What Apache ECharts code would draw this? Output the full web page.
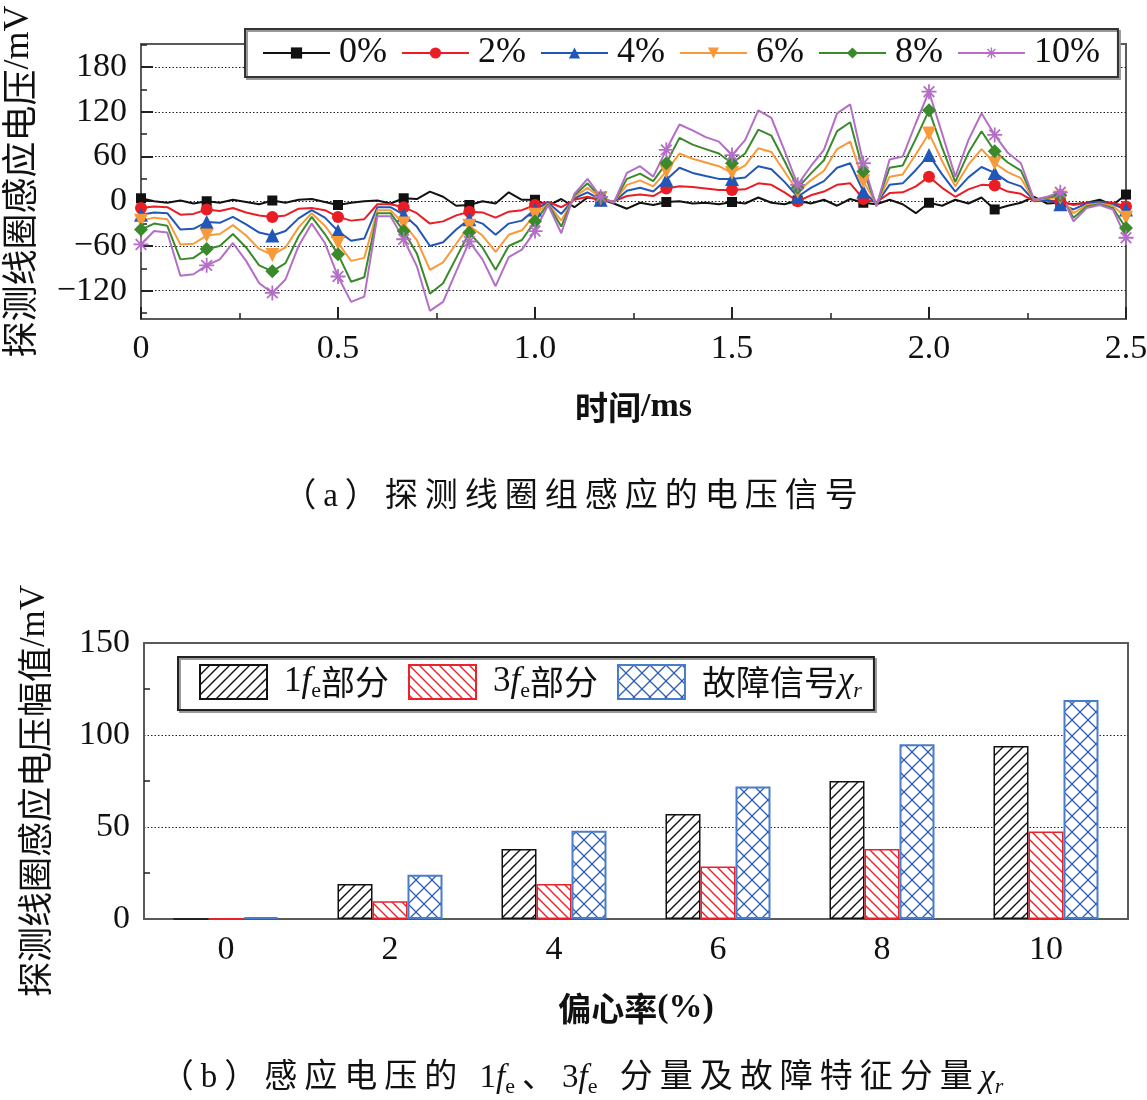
<!DOCTYPE html>
<html>
<head>
<meta charset="utf-8">
<title>探测线圈感应电压</title>
<script src="https://cdn.jsdelivr.net/npm/echarts@6/dist/echarts.min.js"></script>
<style>
html, body { margin: 0; padding: 0; background: #fff; }
#main { width: 1147px; height: 1100px; }
</style>
</head>
<body>
<div id="main"></div>
<script>
// ---- (a) induced voltage traces, mV, one sample every 1/30 ms ----
var tStep = 1 / 30;
var markerEvery = 5; // a marker every 1/6 ms
var traceNames = ['0%', '2%', '4%', '6%', '8%', '10%'];

var v0 = [4,0,-2,1,-3,0,-2,2,-1,-4,
    1,-2,2,3,-1,-5,-2,0,1,-3,
    4,3,13,6,-6,-5,0,-3,12,2,
    2,-6,3,-8,5,3,-3,-10,-2,-5,
    -1,0,-3,-2,-4,-1,-3,5,-2,-4,
    1,-3,2,-6,3,-2,-4,2,-4,-16,
    -2,-6,2,-3,5,-11,-6,-2,6,-3,
    -2,-4,-2,2,-5,9];
var v2 = [-9,-7,-8,-18,-17,-11,-13,-9,-15,-19,
    -21,-19,-10,-9,-12,-21,-26,-24,-4,-4,
    -8,-16,-30,-27,-19,-14,-15,-22,-14,-12,
    -5,-1,-8,2,6,1,0,7,9,7,
    17,20,19,17,15,15,16,24,22,12,
    0,8,13,22,24,3,-1,11,12,20,
    33,18,6,16,22,21,13,10,0,1,
    0,-5,-2,-1,-2,-7];
var v4 = [-18,-15,-16,-38,-37,-28,-29,-21,-31,-42,
    -46,-40,-23,-12,-22,-40,-53,-50,-8,-8,
    -18,-34,-60,-55,-38,-24,-30,-45,-30,-26,
    -11,-2,-17,4,12,2,-1,14,18,13,
    29,45,38,34,30,30,32,47,43,26,
    6,18,27,45,51,13,-3,22,24,42,
    62,36,13,32,46,38,26,20,1,2,
    -4,-11,-3,-2,-4,-11];
var v6 = [-26,-22,-24,-58,-57,-46,-44,-32,-46,-64,
    -72,-62,-35,-16,-33,-56,-80,-76,-12,-12,
    -30,-52,-92,-82,-57,-33,-46,-68,-45,-39,
    -18,-3,-26,6,18,4,-1,22,28,20,
    40,64,57,52,47,38,48,71,66,40,
    13,28,41,70,80,27,-4,33,36,63,
    91,54,20,49,70,51,39,31,1,4,
    5,-16,-5,-3,-6,-22];
var v8 = [-38,-30,-33,-78,-76,-64,-60,-44,-62,-86,
    -94,-83,-47,-21,-44,-71,-108,-102,-16,-16,
    -40,-70,-124,-110,-76,-42,-62,-92,-60,-52,
    -27,-4,-34,8,24,5,-2,30,37,27,
    51,85,76,70,64,51,64,96,88,54,
    18,37,55,94,106,40,-5,45,48,84,
    122,72,26,65,94,67,52,41,2,5,
    8,-22,-7,-4,-9,-36];
var v10 = [-58,-40,-42,-100,-98,-86,-78,-56,-80,-110,
    -123,-105,-60,-30,-56,-101,-135,-128,-20,-20,
    -51,-87,-147,-135,-94,-54,-78,-114,-75,-65,
    -40,-5,-43,10,30,6,-2,38,47,33,
    69,103,95,86,80,62,82,122,112,68,
    22,47,69,118,130,51,-7,56,60,105,
    147,91,33,82,118,89,65,51,2,6,
    12,-27,-9,-5,-11,-49];
var yLabelTicks = [-120, -60, 0, 60, 120, 180];
var yMinorTicks = [-150, -90, -30, 30, 90, 150, 210];

// ---- (b) amplitudes vs eccentricity ----
var eccCats = ['0', '2', '4', '6', '8', '10'];
var amp1fe = [0, 19, 38, 57, 75, 94];
var amp3fe = [0.4, 9.6, 19, 28.5, 38, 47.5];
var ampChi = [1, 24, 48, 72, 95, 119];
var barNames = ['1fe部分', '3fe部分', '故障信号χr'];

var serif = '"Liberation Serif", "Times New Roman", serif';
var cjk = '"Noto Sans CJK SC", sans-serif';
var mixed = '"Liberation Serif", "Noto Sans CJK SC", serif';
var frameColor = '#5a5a5a';
var traceColors = ['#111111', '#ea1d25', '#2057b8', '#f99a3a', '#3a8a2b', '#b46ec6'];
var starPath = 'path://M8.8 0H11.2V20H8.8Z M0 8.8H20V11.2H0Z M2.08 3.78L3.78 2.08L17.92 16.22L16.22 17.92Z M16.22 2.08L17.92 3.78L3.78 17.92L2.08 16.22Z';
var traceSymbols = ['rect', 'circle', 'triangle', 'triangle', 'diamond', starPath];
var symbolRot = [0, 0, 0, 180, 0, 0];
var symbolSizes = [10, 12, 14, 14, 14, 15];

var timeMs = v0.map(function (v, i) { return +(i * tStep).toFixed(4); });

function pairs(vals) {
    return vals.map(function (v, i) { return [timeMs[i], v]; });
}

function hatch(color, dirs, size, lw) {
    var c = document.createElement('canvas');
    c.width = size; c.height = size;
    var g = c.getContext('2d');
    g.fillStyle = '#fff';
    g.fillRect(0, 0, size, size);
    g.strokeStyle = color;
    g.lineWidth = lw;
    dirs.forEach(function (d) {
        g.beginPath();
        if (d === '/') {
            g.moveTo(-1, size + 1); g.lineTo(size + 1, -1);
            g.moveTo(-1, 1); g.lineTo(1, -1);
            g.moveTo(size - 1, size + 1); g.lineTo(size + 1, size - 1);
        } else {
            g.moveTo(-1, -1); g.lineTo(size + 1, size + 1);
            g.moveTo(size - 1, -1); g.lineTo(size + 1, 1);
            g.moveTo(-1, size - 1); g.lineTo(1, size + 1);
        }
        g.stroke();
    });
    return { image: c, repeat: 'repeat' };
}

function spaced(str, style) {
    return str.split('').map(function (ch) { return '{' + style + '|' + ch + '}'; }).join('');
}

var series = traceNames.map(function (name, k) {
    var vals = [v0, v2, v4, v6, v8, v10][k];
    return {
        name: name,
        type: 'line',
        xAxisIndex: 0,
        yAxisIndex: 0,
        data: pairs(vals),
        symbol: traceSymbols[k],
        symbolRotate: symbolRot[k],
        symbolSize: function (val, p) {
            return p.dataIndex % markerEvery === 0 ? symbolSizes[k] : 0;
        },
        showAllSymbol: true,
        lineStyle: { color: traceColors[k], width: 2 },
        itemStyle: { color: traceColors[k] },
        emphasis: { disabled: true }
    };
});

var barStyles = [
    { color: hatch('#111', ['/'], 10, 1.4), borderColor: '#111', borderWidth: 1.5 },
    { color: hatch('#e8232c', ['\\'], 10, 1.4), borderColor: '#e8232c', borderWidth: 1.5 },
    { color: hatch('#2c5cb8', ['/', '\\'], 16, 1.3), borderColor: '#4a7ccc', borderWidth: 2 }
];
[amp1fe, amp3fe, ampChi].forEach(function (vals, k) {
    series.push({
        name: barNames[k],
        type: 'bar',
        xAxisIndex: 1,
        yAxisIndex: 2,
        data: vals,
        barWidth: 35,
        barGap: '0%',
        itemStyle: barStyles[k],
        emphasis: { disabled: true }
    });
});

var subRich = {
    n: { fontFamily: serif, fontSize: 35, lineHeight: 40, color: '#111', padding: [0, 0, 0, 12] },
    f: { fontFamily: serif, fontStyle: 'italic', fontSize: 35, lineHeight: 40, color: '#111' },
    s: { fontFamily: serif, fontSize: 22, verticalAlign: 'bottom', color: '#111' },
    c: { fontFamily: cjk, fontSize: 34, lineHeight: 40, color: '#111' },
    c0: { fontFamily: cjk, fontSize: 34, lineHeight: 40, color: '#111', padding: [0, 0, 0, 12] },
    x: { fontFamily: serif, fontStyle: 'italic', fontSize: 35, lineHeight: 40, color: '#111' },
    r: { fontFamily: serif, fontStyle: 'italic', fontSize: 22, verticalAlign: 'bottom', color: '#111' }
};
var barLegendText = {
    '1fe部分': '{n|1}{f|f}{s|e}{c|部分}',
    '3fe部分': '{n|3}{f|f}{s|e}{c|部分}',
    '故障信号χr': '{c0|故障信号}{x|χ}{r|r}'
};

var capRich = {
    k: { fontFamily: mixed, fontSize: 33, lineHeight: 40, padding: [0, 7, 0, 0], color: '#111' },
    n: { fontFamily: serif, fontSize: 33, lineHeight: 40, color: '#111' },
    f: { fontFamily: serif, fontStyle: 'italic', fontSize: 33, lineHeight: 40, color: '#111' },
    s: { fontFamily: serif, fontSize: 22, verticalAlign: 'bottom', padding: [0, 7, 0, 0], color: '#111' },
    x: { fontFamily: serif, fontStyle: 'italic', fontSize: 34, lineHeight: 40, color: '#111' },
    r: { fontFamily: serif, fontStyle: 'italic', fontSize: 22, verticalAlign: 'bottom', color: '#111' }
};
var capA = spaced('（a）探测线圈组感应的电压信号', 'k');
var capB = spaced('（b）感应电压的 ', 'k') + '{n|1}{f|f}{s|e}' + spaced('、', 'k') +
    '{n|3}{f|f}{s|e}' + spaced(' 分量及故障特征分量', 'k') + '{x|χ}{r|r}';

var dotted = { color: '#222', width: 1.2, type: [1.5, 2] };
var tickStyle = { color: '#222', width: 2 };

var option = {
    animation: false,
    backgroundColor: '#fff',
    textStyle: { fontFamily: mixed },
    grid: [
        { left: 141, top: 44, width: 985, height: 275, show: true, borderColor: frameColor, borderWidth: 2, backgroundColor: 'transparent', outerBoundsMode: 'none' },
        { left: 144, top: 643, width: 984, height: 276, show: true, borderColor: frameColor, borderWidth: 2, backgroundColor: 'transparent', outerBoundsMode: 'none' }
    ],
    legend: [
        {
            data: traceNames,
            left: 245, top: 29,
            orient: 'horizontal',
            itemWidth: 67, itemHeight: 14, itemGap: 14,
            padding: [6, 18, 6, 17],
            backgroundColor: '#fff',
            borderColor: '#333', borderWidth: 2,
            shadowColor: '#999', shadowBlur: 0, shadowOffsetX: 2, shadowOffsetY: 2,
            selectedMode: false,
            formatter: function (name) { return '{t|' + name + '}'; },
            textStyle: {
                rich: { t: { fontFamily: serif, fontSize: 36, color: '#111', padding: [0, 0, 0, 4] } }
            }
        },
        {
            data: barNames,
            left: 178, top: 657,
            orient: 'horizontal',
            icon: 'rect',
            itemWidth: 67, itemHeight: 34, itemGap: 19,
            padding: [7, 12, 8, 21],
            backgroundColor: '#fff',
            borderColor: '#222', borderWidth: 2,
            shadowColor: '#999', shadowBlur: 0, shadowOffsetX: 2, shadowOffsetY: 2,
            selectedMode: false,
            formatter: function (name) { return barLegendText[name]; },
            textStyle: { rich: subRich }
        }
    ],
    xAxis: [
        {
            gridIndex: 0, type: 'value', position: 'bottom',
            min: 0, max: 2.5, interval: 0.5,
            axisLine: { onZero: false, lineStyle: { color: frameColor, width: 2 } },
            axisTick: { inside: true, length: 12, lineStyle: tickStyle },
            minorTick: { show: true, splitNumber: 2, length: 6, lineStyle: { color: '#222', width: 1.5 } },
            splitLine: { show: false },
            axisLabel: {
                margin: 13,
                color: '#111', fontFamily: serif, fontSize: 34,
                formatter: function (v) { return v === 0 ? '0' : v.toFixed(1); }
            },
            name: '{c|时间}{e|/ms}',
            nameLocation: 'middle', nameGap: 71,
            nameTextStyle: {
                fontSize: 34,
                rich: {
                    c: { fontFamily: cjk, fontSize: 33, fontWeight: 'bold', color: '#111' },
                    e: { fontFamily: serif, fontSize: 34, fontWeight: 'bold', color: '#111' }
                }
            }
        },
        {
            gridIndex: 1, type: 'category', position: 'bottom', data: eccCats,
            boundaryGap: true,
            axisLine: { onZero: false, lineStyle: { color: frameColor, width: 2 } },
            axisTick: { inside: true, length: 9, alignWithLabel: false, lineStyle: tickStyle },
            splitLine: { show: false },
            axisLabel: { margin: 14, color: '#111', fontFamily: serif, fontSize: 34 },
            name: '{c|偏心率}{e|(%)}',
            nameLocation: 'middle', nameGap: 72,
            nameTextStyle: {
                fontSize: 34,
                rich: {
                    c: { fontFamily: cjk, fontSize: 33, fontWeight: 'bold', color: '#111' },
                    e: { fontFamily: serif, fontSize: 34, fontWeight: 'bold', color: '#111' }
                }
            }
        },
        {
            gridIndex: 1, type: 'category', position: 'bottom', data: eccCats,
            boundaryGap: true,
            axisLine: { show: false },
            axisTick: { inside: true, length: 12, alignWithLabel: true, lineStyle: tickStyle },
            axisLabel: { show: false },
            splitLine: { show: false }
        }
    ],
    yAxis: [
        {
            gridIndex: 0, type: 'value', position: 'left',
            min: -158, max: 211,
            axisLine: { show: true, onZero: false, lineStyle: { color: frameColor, width: 2 } },
            axisTick: { inside: true, length: 12, customValues: yLabelTicks, lineStyle: tickStyle },
            axisLabel: {
                customValues: yLabelTicks,
                margin: 14, color: '#111', fontFamily: serif, fontSize: 34,
                formatter: function (v) { return v < 0 ? '\u2212' + Math.abs(v) : String(v); }
            },
            splitLine: { show: true, lineStyle: dotted },
            name: '{c|探测线圈感应电压}{e|/mV}',
            nameLocation: 'middle', nameGap: 104,
            nameTextStyle: {
                fontSize: 36,
                rich: {
                    c: { fontFamily: cjk, fontSize: 36, color: '#111' },
                    e: { fontFamily: serif, fontSize: 36, color: '#111' }
                }
            }
        },
        {
            gridIndex: 0, type: 'value', position: 'left',
            min: -158, max: 211,
            axisLine: { show: false },
            axisTick: { inside: true, length: 6, customValues: yMinorTicks, lineStyle: { color: '#222', width: 1.5 } },
            axisLabel: { show: false },
            splitLine: { show: false }
        },
        {
            gridIndex: 1, type: 'value', position: 'left',
            min: 0, max: 150, interval: 50,
            axisLine: { show: true, onZero: false, lineStyle: { color: frameColor, width: 2 } },
            axisTick: { inside: true, length: 12, lineStyle: tickStyle },
            minorTick: { show: true, splitNumber: 2, length: 6, lineStyle: { color: '#222', width: 1.5 } },
            axisLabel: { margin: 14, color: '#111', fontFamily: serif, fontSize: 34 },
            splitLine: { show: true, showMinLine: false, showMaxLine: false, lineStyle: dotted },
            name: '{c|探测线圈感应电压幅值}{e|/mV}',
            nameLocation: 'middle', nameGap: 92,
            nameTextStyle: {
                fontSize: 35,
                padding: [0, 20, 0, 0],
                rich: {
                    c: { fontFamily: cjk, fontSize: 35, color: '#111' },
                    e: { fontFamily: serif, fontSize: 35, color: '#111' }
                }
            }
        }
    ],
    graphic: [
        {
            type: 'text', x: 574, y: 497,
            style: { text: capA, rich: capRich, align: 'center', verticalAlign: 'middle', fill: '#111' }
        },
        {
            type: 'text', x: 582, y: 1078,
            style: { text: capB, rich: capRich, align: 'center', verticalAlign: 'middle', fill: '#111' }
        }
    ],
    series: series
};

var chart = echarts.init(document.getElementById('main'));
chart.setOption(option);
</script>
</body>
</html>
